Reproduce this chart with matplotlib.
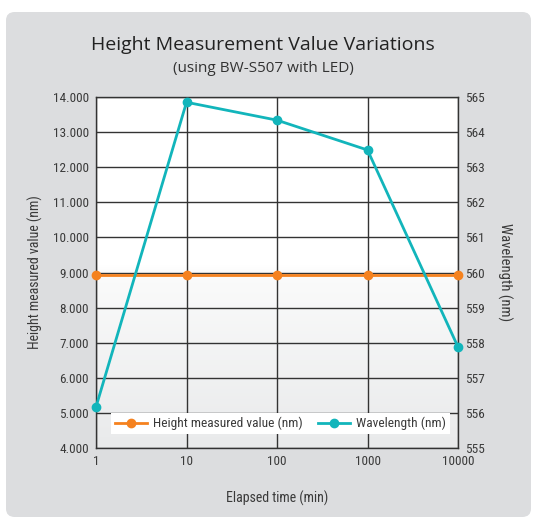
import matplotlib
matplotlib.use("Agg")
import matplotlib.pyplot as plt
import numpy as np
from matplotlib.patches import FancyBboxPatch
from matplotlib.ticker import FuncFormatter, FixedLocator
from matplotlib.colors import LinearSegmentedColormap
from matplotlib import font_manager as fm

time_min = [1, 10, 100, 1000, 10000]
height_nm = [8920, 8920, 8920, 8920, 8920]
wavelength_nm = [556.17, 564.85, 564.34, 563.49, 557.88]
height_ticks = [4000, 5000, 6000, 7000, 8000, 9000, 10000, 11000, 12000, 13000, 14000]
wave_ticks = [555, 556, 557, 558, 559, 560, 561, 562, 563, 564, 565]
x_ticks = [1, 10, 100, 1000, 10000]

names = {f.name for f in fm.fontManager.ttflist}
cond_name = None
for cand in ["Liberation Sans Narrow", "DejaVu Sans Condensed", "Roboto Condensed", "Open Sans Condensed"]:
    if cand in names:
        cond_name = cand
        break
cond = [cond_name or "DejaVu Sans", "DejaVu Sans"]
stretch = "condensed"

W, H = 552, 523
fig = plt.figure(figsize=(W / 100, H / 100), dpi=100)
fig.patch.set_facecolor("white")

# gray rounded panel: x 6..531, y 12..517 (px from top)
px = 6 / W
py = 1 - 517 / H
panel = FancyBboxPatch((px, py), (531 - 6) / W, (517 - 12) / H,
                       boxstyle="round,pad=0,rounding_size=0.016",
                       transform=fig.transFigure, facecolor="#dcdddf",
                       edgecolor="none", zorder=-10)
fig.patches.append(panel)

tick_col = "#3a3a3a"

ax = fig.add_axes([96 / W, 1 - 448 / H, (458 - 96) / W, (448 - 97) / H])
ax.set_xscale("log")
ax.set_xlim(1, 10000)
ax.set_ylim(4000, 14000)

grad = np.linspace(0, 1, 256).reshape(-1, 1)
cmap = LinearSegmentedColormap.from_list("g", [(0, "#e9eaeb"), (0.5, "#fbfbfb"), (0.52, "#ffffff"), (1, "#ffffff")])
ax.imshow(grad, extent=[0, 1, 0, 1], transform=ax.transAxes, aspect="auto",
          cmap=cmap, origin="lower", zorder=0)
ax.set_facecolor("white")

ax.grid(True, which="major", color="#333333", linewidth=1.0, zorder=1)
ax.xaxis.set_major_locator(FixedLocator(x_ticks))
ax.xaxis.set_minor_locator(FixedLocator([]))
ax.set_xticks(x_ticks)
ax.set_xticklabels([str(v) for v in x_ticks])
ax.set_yticks(height_ticks)
ax.yaxis.set_major_formatter(FuncFormatter(lambda v, p: f"{int(v):,}".replace(",", ".")))
ax.tick_params(axis="both", length=0, pad=5, labelsize=9.5, colors=tick_col)
for lab in ax.get_xticklabels() + ax.get_yticklabels():
    lab.set_family(cond)
    lab.set_fontstretch(stretch)
for s in ax.spines.values():
    s.set_color("#333333")
    s.set_linewidth(1.0)

l1, = ax.plot(time_min, height_nm, color="#f5821f", lw=2, marker="o", ms=6,
              clip_on=False, zorder=5, label="Height measured value (nm)")

ax2 = ax.twinx()
ax2.set_ylim(555, 565)
ax2.set_yticks(wave_ticks)
ax2.tick_params(axis="y", length=0, pad=5, labelsize=9.5, colors=tick_col)
for lab in ax2.get_yticklabels():
    lab.set_family(cond)
    lab.set_fontstretch(stretch)
for s in ax2.spines.values():
    s.set_visible(False)
l2, = ax2.plot(time_min, wavelength_nm, color="#12b5bb", lw=2, marker="o", ms=6,
               clip_on=False, zorder=5, label="Wavelength (nm)")

leg = ax2.legend(handles=[l1, l2], loc="lower center", bbox_to_anchor=(0.51, 0.02),
                 ncol=2, frameon=True, fancybox=False, framealpha=1,
                 edgecolor="white", facecolor="white", handlelength=2.4,
                 columnspacing=1.2, borderpad=0.3, handletextpad=0.4,
                 prop={"family": cond, "size": 9.6, "stretch": stretch})
leg.get_frame().set_linewidth(0)
for t in leg.get_texts():
    t.set_color(tick_col)

ax.set_ylabel("Height measured value (nm)", family=cond, fontstretch=stretch, fontsize=10, color=tick_col, labelpad=7)
ax2.set_ylabel("Wavelength (nm)", family=cond, fontstretch=stretch, fontsize=10.5, color=tick_col, rotation=270, labelpad=20)
ax.set_xlabel("Elapsed time (min)", family=cond, fontstretch=stretch, fontsize=10, color=tick_col, labelpad=16)

fig.text(263 / W, 1 - 45 / H, "Height Measurement Value Variations", ha="center", va="center",
         fontsize=14, color="#222222", family="Open Sans")
fig.text(263 / W, 1 - 68 / H, "(using BW-S507 with LED)", ha="center", va="center",
         fontsize=11, color="#333333", family="Open Sans")

fig.savefig("out.png", dpi=100, facecolor=fig.get_facecolor())
